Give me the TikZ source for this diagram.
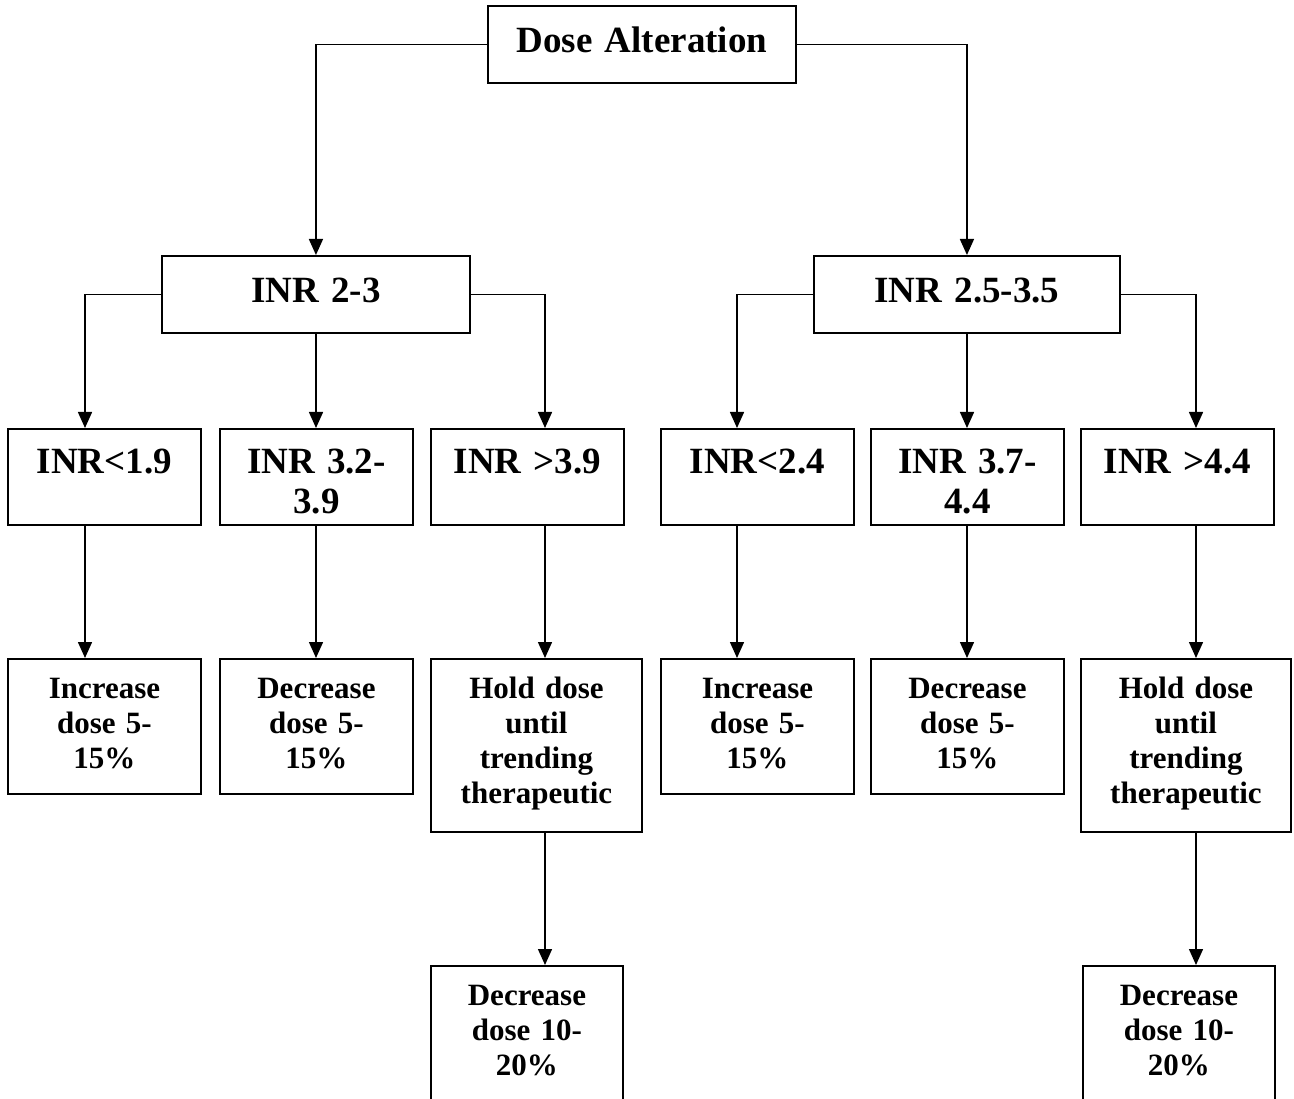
\documentclass[tikz,border=0pt]{standalone}
\usepackage{fontspec}
\setmainfont{Liberation Serif}
\usetikzlibrary{arrows.meta}

\begin{document}
\begin{tikzpicture}
		[x=1pt, y=-1pt, >={Triangle[length=16pt, width=14pt]},
			box/.style={draw, line width=1.9pt, inner sep=0pt, anchor=north west, align=center},
			head/.style={box, text width=308pt, text height=47pt, text depth=30pt, font=\fontsize{37}{40}\selectfont\bfseries},
			reading/.style={box, text width=193pt, text height=45pt, text depth=51pt, font=\fontsize{37}{40}\selectfont\bfseries},
			action/.style={box, text width=193pt, text height=40pt, text depth=95pt, font=\fontsize{31}{35}\selectfont\bfseries},
			hold/.style={action, text width=211pt, text depth=133pt},
			link/.style={->, line width=1.5pt}]
		\useasboundingbox (0,0) rectangle (1294,1099);
		% columns of the arrows
		\coordinate (c1) at (85,0);
		\coordinate (c2) at (316,0);
		\coordinate (c3) at (545,0);
		\coordinate (c4) at (737,0);
		\coordinate (c5) at (967,0);
		\coordinate (c6) at (1196,0);
		% top and target ranges
		\node[head] (dose) at (487,5) {Dose Alteration};
		\node[head] (inr23) at (161,255) {INR 2-3};
		\node[head, text width=306pt] (inr35) at (813,255) {INR 2.5-3.5};
		% measured INR
		\node[reading] (lo1) at (7,428) {INR<1.9};
		\node[reading] (mid1) at (219,428) {INR 3.2-\\3.9};
		\node[reading] (hi1) at (430,428) {INR >3.9};
		\node[reading] (lo2) at (660,428) {INR<2.4};
		\node[reading] (mid2) at (870,428) {INR 3.7-\\4.4};
		\node[reading] (hi2) at (1080,428) {INR >4.4};
		% what to do with the dose
		\node[action] (incr1) at (7,658) {Increase\\dose 5-\\15\%};
		\node[action] (decr1) at (219,658) {Decrease\\dose 5-\\15\%};
		\node[hold] (hold1) at (430,658) {Hold dose\\until\\trending\\therapeutic};
		\node[action] (incr2) at (660,658) {Increase\\dose 5-\\15\%};
		\node[action] (decr2) at (870,658) {Decrease\\dose 5-\\15\%};
		\node[hold, text width=210pt] (hold2) at (1080,658) {Hold dose\\until\\trending\\therapeutic};
		\node[action, text width=192pt] (cut1) at (430,965) {Decrease\\dose 10-\\20\%};
		\node[action, text width=192pt] (cut2) at (1082,965) {Decrease\\dose 10-\\20\%};
		% connect the levels
		\draw[link] (dose.west) -| (inr23.north);
		\draw[link] (dose.east) -| (inr35.north);
		\draw[link] (inr23.west) -| (lo1.north -| c1);
		\draw[link] (inr23.south -| c2) -- (mid1.north -| c2);
		\draw[link] (inr23.east) -| (hi1.north -| c3);
		\draw[link] (inr35.west) -| (lo2.north -| c4);
		\draw[link] (inr35.south -| c5) -- (mid2.north -| c5);
		\draw[link] (inr35.east) -| (hi2.north -| c6);
		\draw[link] (lo1.south -| c1) -- (incr1.north -| c1);
		\draw[link] (mid1.south -| c2) -- (decr1.north -| c2);
		\draw[link] (hi1.south -| c3) -- (hold1.north -| c3);
		\draw[link] (lo2.south -| c4) -- (incr2.north -| c4);
		\draw[link] (mid2.south -| c5) -- (decr2.north -| c5);
		\draw[link] (hi2.south -| c6) -- (hold2.north -| c6);
		\draw[link] (hold1.south -| c3) -- (cut1.north -| c3);
		\draw[link] (hold2.south -| c6) -- (cut2.north -| c6);
	\end{tikzpicture}
\end{document}
